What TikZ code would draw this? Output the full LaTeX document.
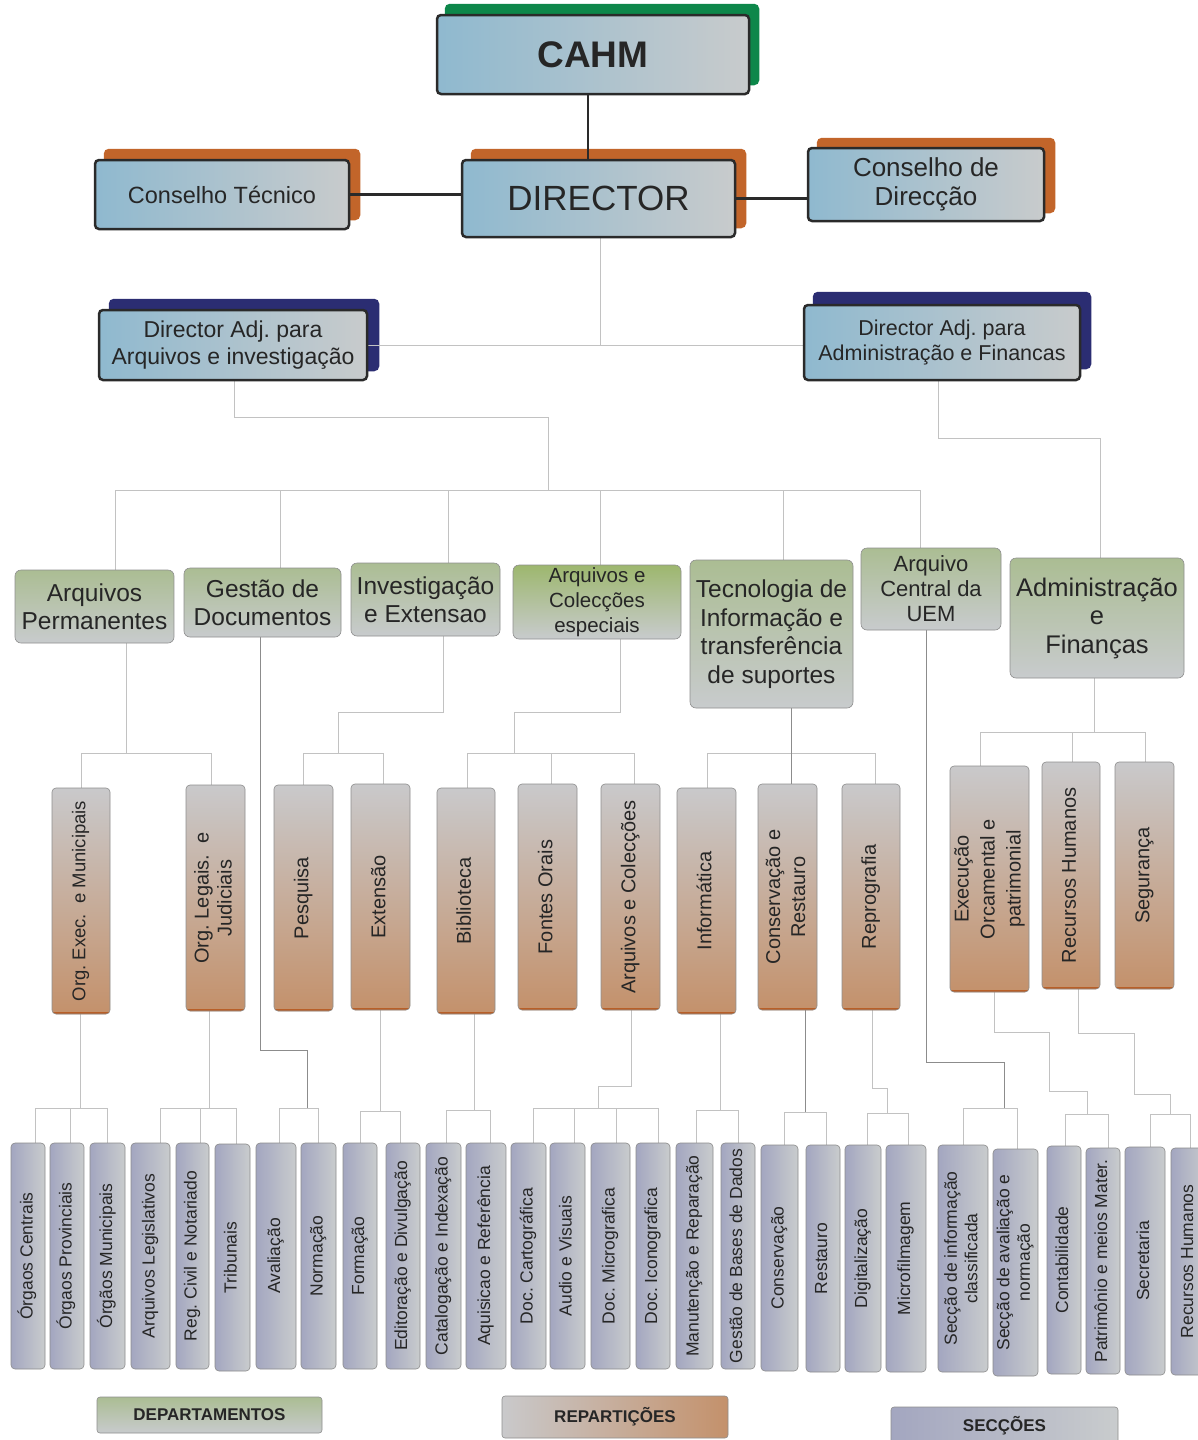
\documentclass[tikz,border=0pt]{standalone}
\usepackage{fontspec}
\setmainfont{Liberation Sans}
\usepackage{graphicx}
\usetikzlibrary{backgrounds}
\frenchspacing
\definecolor{topline}{HTML}{2A2A2A}
\definecolor{topL}{HTML}{8FB9CF}
\definecolor{topR}{HTML}{C8CBCC}
\definecolor{greenS}{HTML}{0D874A}
\definecolor{orangeS}{HTML}{C2652A}
\definecolor{navyS}{HTML}{2B2D72}
\definecolor{grnT}{HTML}{ABBD93}
\definecolor{grnB}{HTML}{C8CBCD}
\definecolor{grnT2}{HTML}{9DB76E}
\definecolor{brnT}{HTML}{C9C9CB}
\definecolor{brnB}{HTML}{C4916B}
\definecolor{brnE}{HTML}{B85F28}
\definecolor{purL}{HTML}{A3A6C0}
\definecolor{purR}{HTML}{C9CCCD}
\definecolor{lgray}{HTML}{C2C2C2}
\definecolor{dgray}{HTML}{8C8C8C}
\definecolor{txt}{HTML}{262626}
\definecolor{bordr}{HTML}{8E8E8E}
\newcommand\myfs[2]{\fontsize{#1pt}{#2pt}\selectfont}
\newcommand\vtext[1]{\rotatebox{90}{\begin{tabular}{@{}c@{}}#1\end{tabular}}}
\newcommand\mkshadow[4]{\fill[#2,rounded corners=5pt] ([xshift=#3,yshift=#4]#1.south west) rectangle ([xshift=#3,yshift=#4]#1.north east);}
\tikzset{
  sz/.style 2 args={minimum width=#1pt, minimum height=#2pt},
  topbox/.style={draw=topline, line width=2.5pt, rounded corners=4pt, left color=topL, right color=topR, inner sep=0pt, align=center, text=txt},
  grnbox/.style={draw=bordr, line width=0.6pt, rounded corners=6pt, top color=grnT, bottom color=grnB, inner sep=0pt, align=center, text=txt},
  brnbox/.style={draw=bordr, line width=0.6pt, rounded corners=4pt, top color=brnT, bottom color=brnB, inner sep=0pt, text=txt, font=\myfs{20}{24},
    path picture={\draw[line width=4pt, brnE] (path picture bounding box.south west) -- (path picture bounding box.south east);}},
  purbox/.style={draw=dgray, line width=0.6pt, rounded corners=4pt, left color=purL, right color=purR, inner sep=0pt, text=txt, font=\myfs{17.5}{20.5}},
  legbox/.style={draw=bordr, line width=0.6pt, rounded corners=3pt, inner sep=0pt, text=txt, font=\myfs{17}{20}\bfseries},
  conn/.style={draw=lgray, line width=1pt},
  connd/.style={draw=dgray, line width=1pt},
  topconn/.style={draw=topline, line width=2.5pt},
}
\begin{document}
\begin{tikzpicture}[x=1pt,y=-1pt]
\useasboundingbox (0,0) rectangle (1198,1440);

% ---------- top level
\node[topbox, sz={312}{79}, font=\myfs{37}{40}\bfseries] (cahm) at (593,54.5) {CAHM};
\node[topbox, sz={273}{77}, font=\myfs{35}{40}] (dir) at (598.5,198.5) {DIRECTOR};
\node[topbox, sz={254}{69}, font=\myfs{23.5}{27}] (ct) at (222,194.5) {Conselho Técnico};
\node[topbox, sz={236}{73}, font=\myfs{26}{28.5}] (cd) at (926,184.5) {Conselho de\\Direcção};
\node[topbox, sz={268}{70}, font=\myfs{23}{27}] (dal) at (233,345) {Director Adj. para\\Arquivos e investigação};
\node[topbox, sz={276}{75}, font=\myfs{21.5}{25}] (dar) at (942,342.5) {Director Adj. para\\Administração e Financas};

% ---------- departments
\node[grnbox, sz={159}{73}, font=\myfs{24.5}{28}] (ap) at (94.5,606.5) {Arquivos\\Permanentes};
\node[grnbox, sz={157}{69}, font=\myfs{24.5}{28}] (gd) at (262.5,602.5) {Gestão de\\Documentos};
\node[grnbox, sz={149}{73}, font=\myfs{24.5}{28}] (ie) at (425.5,599.5) {Investigação\\e Extensao};
\node[grnbox, top color=grnT2, sz={168}{74}, font=\myfs{20.5}{25}] (ace) at (597,602) {Arquivos e\\Colecções\\especiais};
\node[grnbox, sz={163}{148}, font=\myfs{24.5}{28.5}] (ti) at (771.5,634) {Tecnologia de\\Informação e\\transferência\\de suportes};
\node[grnbox, sz={140}{82}, font=\myfs{22}{25}] (acu) at (931,589) {Arquivo\\Central da\\UEM};
\node[grnbox, sz={174}{120}, font=\myfs{25.5}{28.5}] (af) at (1097,618) {Administração\\e\\Finanças};

% ---------- row 4
\node[brnbox, sz={58}{226}, font=\myfs{18.5}{22}] (oe) at (81,901) {\vtext{Org. Exec.\ \ e Municipais}};
\node[brnbox, sz={59}{226}, font=\myfs{20}{23}] (ol) at (215.5,898) {\vtext{Org. Legais.\ \ e\\Judiciais}};
\node[brnbox, sz={59}{226}] (pq) at (303.5,898) {\vtext{Pesquisa}};
\node[brnbox, sz={59}{226}] (ex) at (380.5,897) {\vtext{Extensão}};
\node[brnbox, sz={58}{226}] (bi) at (466,901) {\vtext{Biblioteca}};
\node[brnbox, sz={59}{226}] (fo) at (547.5,897) {\vtext{Fontes Orais}};
\node[brnbox, sz={59}{226}] (ac) at (630.5,897) {\vtext{Arquivos e Colecções}};
\node[brnbox, sz={59}{226}] (inf) at (706.5,901) {\vtext{Informática}};
\node[brnbox, sz={59}{226}, font=\myfs{20}{25}] (cr) at (787.5,897) {\vtext{Conservação e\\Restauro}};
\node[brnbox, sz={58}{226}] (rp) at (871,897) {\vtext{Reprografia}};
\node[brnbox, sz={79}{226}, font=\myfs{20}{26}] (eo) at (989.5,879) {\vtext{Execução\\Orcamental e\\patrimonial}};
\node[brnbox, sz={58}{227}] (rh) at (1071,875.5) {\vtext{Recursos Humanos}};
\node[brnbox, sz={59}{227}] (sg) at (1144.5,875.5) {\vtext{Segurança}};

% ---------- row 5
\node[purbox, sz={34}{226}] (oc) at (28,1256) {\vtext{Órgaos Centrais}};
\node[purbox, sz={34}{226}] (op) at (67,1256) {\vtext{Órgaos Provinciais}};
\node[purbox, sz={35}{226}] (om) at (107.5,1256) {\vtext{Órgãos Municipais}};
\node[purbox, sz={39}{226}] (al) at (150.5,1256) {\vtext{Arquivos Legislativos}};
\node[purbox, sz={33}{226}] (rc) at (192.5,1256) {\vtext{Reg. Civil e Notariado}};
\node[purbox, sz={35}{227}] (tr) at (232.5,1257.5) {\vtext{Tribunais}};
\node[purbox, sz={40}{226}] (av) at (276,1256) {\vtext{Avaliação}};
\node[purbox, sz={35}{226}] (nm) at (318.5,1256) {\vtext{Normação}};
\node[purbox, sz={34}{226}] (fm) at (360,1256) {\vtext{Formação}};
\node[purbox, sz={34}{226}] (ed) at (403,1256) {\vtext{Editoração e Divulgação}};
\node[purbox, sz={35}{226}] (ci) at (443.5,1256) {\vtext{Catalogação e Indexação}};
\node[purbox, sz={40}{226}] (aq) at (486,1256) {\vtext{Aquisicao e Referência}};
\node[purbox, sz={35}{226}] (dc) at (528.5,1256) {\vtext{Doc. Cartográfica}};
\node[purbox, sz={35}{226}] (au) at (567.5,1256) {\vtext{Audio e Visuais}};
\node[purbox, sz={39}{226}] (dm) at (610.5,1256) {\vtext{Doc. Micrografica}};
\node[purbox, sz={34}{226}] (di) at (653,1256) {\vtext{Doc. Iconografica}};
\node[purbox, sz={37}{226}] (mr) at (694.5,1256) {\vtext{Manutenção e Reparação}};
\node[purbox, sz={34}{226}] (gb) at (738,1256) {\vtext{Gestão de Bases de Dados}};
\node[purbox, sz={37}{226}] (cv) at (779.5,1258) {\vtext{Conservação}};
\node[purbox, sz={34}{227}] (rs) at (823,1258.5) {\vtext{Restauro}};
\node[purbox, sz={36}{227}] (dg) at (863,1258.5) {\vtext{Digitalização}};
\node[purbox, sz={40}{227}] (mf) at (906,1258.5) {\vtext{Microfilmagem}};
\node[purbox, sz={50}{227}] (si) at (963,1258.5) {\vtext{Secção de informação\\classificada}};
\node[purbox, sz={45}{227}] (sa) at (1015.5,1262.5) {\vtext{Secção de avaliação e\\normação}};
\node[purbox, sz={34}{228}] (ct2) at (1064,1260) {\vtext{Contabilidade}};
\node[purbox, sz={34}{226}] (pm) at (1103,1261) {\vtext{Patrimônio e meios Mater.}};
\node[purbox, sz={40}{228}] (se) at (1145,1261) {\vtext{Secretaria}};
\node[purbox, sz={36}{227}] (rh2) at (1189,1261.5) {\vtext{Recursos Humanos}};

% ---------- legend
\node[legbox, top color=grnT, bottom color=grnB, sz={225}{36}] (dep) at (209.5,1415) {DEPARTAMENTOS};
\node[legbox, left color=brnT, right color=brnB, sz={226}{42}] (rep) at (615,1417) {REPARTIÇÕES};
\node[legbox, left color=purL, right color=purR, sz={227}{38}] (sec) at (1004.5,1426) {SECÇÕES};

\begin{pgfonlayer}{background}
\fill[white] (0,0) rectangle (1198,1440);
% shadows
\mkshadow{cahm}{greenS}{9pt}{10pt}
\mkshadow{dir}{orangeS}{10pt}{10pt}
\mkshadow{ct}{orangeS}{10pt}{10pt}
\mkshadow{cd}{orangeS}{10pt}{9pt}
\mkshadow{dal}{navyS}{11pt}{10pt}
\mkshadow{dar}{navyS}{10pt}{12pt}

% top connectors
\draw[topconn] (588,0 |- cahm.south) -- (588,0 |- dir.north);
\draw[topconn] (ct.east) -- (dir.west |- ct.east);
\draw[topconn] (dir.east) -- (cd.west |- dir.east);
\draw[conn] (600,0 |- dir.south) -- (600,345);
\draw[conn] (dal.east) -- (dar.west |- dal.east);
\draw[conn] (234,0 |- dal.south) -- (234,417) -- (548,417) -- (548,490);
\draw[conn] (115,0 |- ap.north) -- (115,490) -- (920,490) -- (920,0 |- acu.north);
\draw[conn] (280,490) -- (280,0 |- gd.north);
\draw[conn] (448,490) -- (448,0 |- ie.north);
\draw[conn] (600,490) -- (600,0 |- ace.north);
\draw[conn] (783,490) -- (783,0 |- ti.north);
\draw[conn] (938,0 |- dar.south) -- (938,438) -- (1100,438) -- (1100,0 |- af.north);

% departments -> row 4
\draw[conn] (126,0 |- ap.south) -- (126,753);
\draw[conn] (81,0 |- oe.north) -- (81,753) -- (211,753) -- (211,0 |- ol.north);
\draw[conn] (443,0 |- ie.south) -- (443,712) -- (338,712) -- (338,753);
\draw[conn] (303,0 |- pq.north) -- (303,753) -- (383,753) -- (383,0 |- ex.north);
\draw[conn] (620,0 |- ace.south) -- (620,712) -- (514,712) -- (514,753);
\draw[conn] (467,0 |- bi.north) -- (467,753) -- (634,753) -- (634,0 |- ac.north);
\draw[conn] (551,753) -- (551,0 |- fo.north);
\draw[conn] (707,0 |- inf.north) -- (707,753) -- (875,753) -- (875,0 |- rp.north);
\draw[connd] (791,0 |- ti.south) -- (791,0 |- cr.north);
\draw[conn] (1094,0 |- af.south) -- (1094,732);
\draw[conn] (980,0 |- eo.north) -- (980,732) -- (1145,732) -- (1145,0 |- sg.north);
\draw[conn] (1072,732) -- (1072,0 |- rh.north);

% row 4 -> row 5
\draw[connd] (260,0 |- gd.south) -- (260,1050) -- (307,1050) -- (307,1108);
\draw[conn] (279,0 |- av.north) -- (279,1108) -- (318,1108) -- (318,0 |- nm.north);
\draw[conn] (80,0 |- oe.south) -- (80,1108);
\draw[conn] (35,0 |- oc.north) -- (35,1108) -- (107,1108) -- (107,0 |- om.north);
\draw[conn] (70,1108) -- (70,0 |- op.north);
\draw[conn] (209,0 |- ol.south) -- (209,1108);
\draw[conn] (160,0 |- al.north) -- (160,1108) -- (236,1108) -- (236,0 |- tr.north);
\draw[conn] (200,1108) -- (200,0 |- rc.north);
\draw[conn] (380,0 |- ex.south) -- (380,1111);
\draw[conn] (360,0 |- fm.north) -- (360,1111) -- (400,1111) -- (400,0 |- ed.north);
\draw[conn] (474,0 |- bi.south) -- (474,1110);
\draw[conn] (446,0 |- ci.north) -- (446,1110) -- (490,1110) -- (490,0 |- aq.north);
\draw[conn] (631,0 |- ac.south) -- (631,1086) -- (598,1086) -- (598,1108);
\draw[conn] (533,0 |- dc.north) -- (533,1108) -- (658,1108) -- (658,0 |- di.north);
\draw[conn] (574,1108) -- (574,0 |- au.north);
\draw[conn] (616,1108) -- (616,0 |- dm.north);
\draw[conn] (720,0 |- inf.south) -- (720,1110);
\draw[conn] (696,0 |- mr.north) -- (696,1110) -- (738,1110) -- (738,0 |- gb.north);
\draw[connd] (805,0 |- cr.south) -- (805,1112);
\draw[conn] (784,0 |- cv.north) -- (784,1112) -- (826,1112) -- (826,0 |- rs.north);
\draw[conn] (872,0 |- rp.south) -- (872,1088) -- (887,1088) -- (887,1113);
\draw[conn] (867,0 |- dg.north) -- (867,1113) -- (908,1113) -- (908,0 |- mf.north);
\draw[connd] (926,0 |- acu.south) -- (926,1062) -- (1004,1062) -- (1004,1108);
\draw[conn] (963,0 |- si.north) -- (963,1108) -- (1017,1108) -- (1017,0 |- sa.north);
\draw[conn] (994,0 |- eo.south) -- (994,1032) -- (1049,1032) -- (1049,1091) -- (1087,1091) -- (1087,1114);
\draw[conn] (1065,0 |- ct2.north) -- (1065,1114) -- (1108,1114) -- (1108,0 |- pm.north);
\draw[conn] (1078,0 |- rh.south) -- (1078,1033) -- (1134,1033) -- (1134,1094) -- (1170,1094) -- (1170,1114);
\draw[conn] (1150,0 |- se.north) -- (1150,1114) -- (1190,1114) -- (1190,0 |- rh2.north);
\end{pgfonlayer}
\end{tikzpicture}
\end{document}
